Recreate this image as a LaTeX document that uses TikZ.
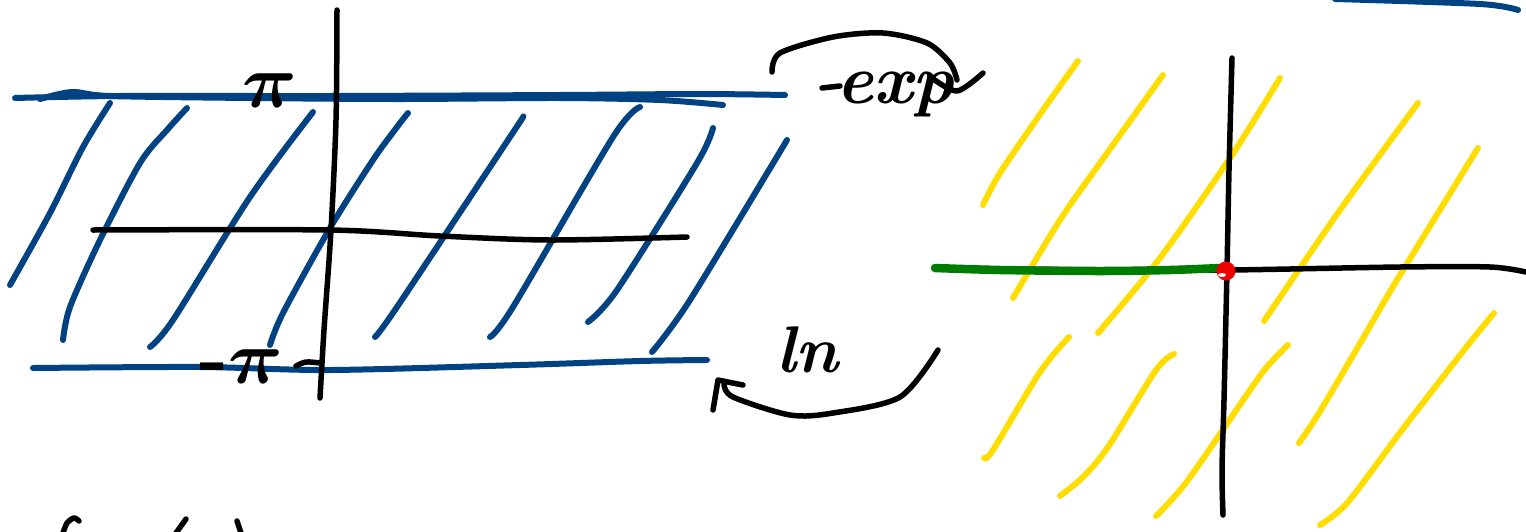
\documentclass[tikz,border=0pt]{standalone}
\definecolor{inkblue}{RGB}{0,66,130}
\definecolor{inkyellow}{RGB}{255,221,0}
\definecolor{inkgreen}{RGB}{0,125,0}
\definecolor{inkred}{RGB}{240,0,0}
\begin{document}
\begin{tikzpicture}[x=1pt,y=-1pt,line cap=round,line join=round,
  bstroke/.style={draw=inkblue,line width=6pt},
  kstroke/.style={draw=black,line width=5.5pt},
  ystroke/.style={draw=inkyellow,line width=6pt},
  hand/.style={inner sep=0pt,font=\bfseries\itshape}]
\useasboundingbox (0,0) rectangle (1526,531);

% ---------- left panel: blue strip ----------
\draw[bstroke] plot[smooth] coordinates {(15,98) (120,96) (330,96) (560,95) (700,94) (785,95)};
\draw[bstroke] plot[smooth] coordinates {(40,99) (72,92) (110,96) (250,98) (400,99) (560,98) (660,100) (723,105)};
\draw[bstroke] plot[smooth] coordinates {(33,368) (200,367) (330,370) (520,365) (640,361) (707,360)};
% hatch
\draw[bstroke] plot[smooth] coordinates {(10,285) (50,213) (83,147) (110,103)};
\draw[bstroke] plot[smooth] coordinates {(63,340) (70,307) (100,240) (140,163) (167,130) (187,108)};
\draw[bstroke] plot[smooth] coordinates {(150,347) (173,320) (250,197) (313,112)};
\draw[bstroke] plot[smooth] coordinates {(270,345) (283,313) (330,228) (373,160) (397,127) (408,113)};
\draw[bstroke] plot[smooth] coordinates {(375,337) (397,307) (510,137) (523,117)};
\draw[bstroke] plot[smooth] coordinates {(490,337) (513,307) (613,137) (640,107)};
\draw[bstroke] plot[smooth] coordinates {(588,322) (617,290) (697,163) (713,128)};
\draw[bstroke] plot[smooth] coordinates {(652,352) (690,300) (787,140)};

% axes
\draw[kstroke] plot[smooth] coordinates {(337,10) (336,120) (331,230) (324,330) (320,398)};
\draw[kstroke] plot[smooth] coordinates {(93,230) (330,230) (440,236) (550,240) (687,237)};

% labels pi
\node[hand,anchor=base] (pitop) at (270,107) {\scalebox{7.6}{\boldmath$\pi$}};
\node[hand,anchor=base] (pibot) at (241,383) {\scalebox{7.6}{\upshape\bfseries\boldmath-$\pi$}};
\draw[kstroke] plot[smooth] coordinates {(296,366) (306,362) (320,363)};

% ---------- exp arrow ----------
\draw[kstroke] plot[smooth] coordinates {(772,72) (780,53) (833,37) (883,33) (927,43) (950,63) (957,80)};
\draw[kstroke] plot[smooth] coordinates {(932,78) (957,91) (983,73)};
\draw[kstroke] (822,88) -- (840,86);
\node[hand,anchor=base west] (exp) at (836,103) {\scalebox{7}{exp}};

% ---------- ln arrow ----------
\draw[kstroke] plot[smooth] coordinates {(938,350) (900,397) (833,413) (790,415) (733,397) (724,384)};
\draw[kstroke] (713,410) -- (718,380) -- (743,385);
\node[hand,anchor=base west] (ln) at (776,372) {\scalebox{6.6}{ln}};

% ---------- right panel ----------
\draw[ystroke] plot[smooth] coordinates {(983,205) (1000,173) (1043,110) (1078,61)};
\draw[ystroke] plot[smooth] coordinates {(1013,298) (1060,220) (1100,163) (1163,75)};
\draw[ystroke] plot[smooth] coordinates {(1098,333) (1160,258) (1232,155) (1280,78)};
\draw[ystroke] plot[smooth] coordinates {(1264,321) (1340,210) (1418,103)};
\draw[ystroke] plot[smooth] coordinates {(1299,443) (1319,413) (1362,340) (1397,280) (1478,148)};
\draw[ystroke] plot[smooth] coordinates {(1320,525) (1348,502) (1402,430) (1464,350) (1494,313)};
\draw[ystroke] plot[smooth] coordinates {(984,458) (993,450) (1040,372) (1069,337)};
\draw[ystroke] plot[smooth] coordinates {(1060,496) (1083,477) (1108,447) (1156,370) (1174,354)};
\draw[ystroke] plot[smooth] coordinates {(1156,516) (1188,480) (1257,380) (1275,358) (1288,345)};

\draw[kstroke] plot[smooth] coordinates {(1232,58) (1229,170) (1227,270) (1224,400) (1222,470) (1223,515)};
\draw[kstroke] plot[smooth] coordinates {(935,268) (1100,270) (1228,270) (1400,267) (1490,267) (1526,272)};
\draw[draw=inkgreen,line width=8.5pt] plot[smooth] coordinates {(935,268) (1000,270) (1100,271) (1170,270) (1220,268)};
\fill[inkred] (1226,271) circle (9.5pt);
\fill[white] (1222,275) ellipse (4pt and 2pt);

% top-right blue stroke
\draw[bstroke] plot[smooth] coordinates {(1335,-1) (1480,4) (1518,10)};

% cut-off handwriting at bottom
\draw[kstroke] plot[smooth] coordinates {(63,533) (67,523) (74,518) (79,521)};
\draw[kstroke] (186,519) -- (176,533);
\draw[kstroke] (237,521) -- (241,533);
\end{tikzpicture}
\end{document}
